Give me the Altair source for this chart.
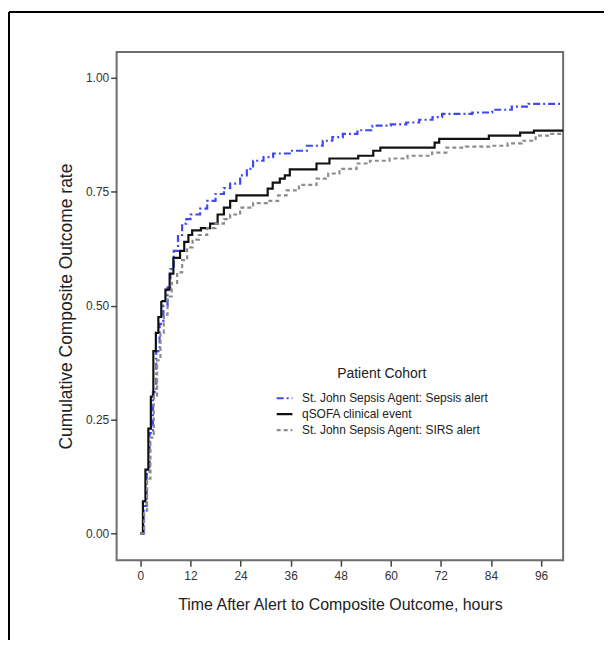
import altair as alt
import pandas as pd

series_names = [
    "St. John Sepsis Agent: Sepsis alert",
    "qSOFA clinical event",
    "St. John Sepsis Agent: SIRS alert",
]
series_colors = ["#4048f2", "#111111", "#8c8c8c"]
series_dash = [[7, 3, 2, 3], [1, 0], [4, 3]]

# Sepsis alert (blue, dash-dot)
sepsis_hours = [0, 0.8, 1.5, 2.2, 3.0, 3.8, 4.6, 5.5, 6.5, 7.2, 8.0, 9.0, 10.0, 11.0, 12.0,
                14.3, 16.0, 18.0, 20.0, 21.5, 23.9, 25.5, 27.0, 29.5, 31.8, 35.8, 39.9, 43.7,
                46.0, 48.5, 52.0, 55.6, 60.0, 63.7, 66.8, 70.0, 72.3, 79.5, 84.3, 89.0, 93.0, 102]
sepsis_rate = [0, 0.06, 0.13, 0.22, 0.31, 0.40, 0.46, 0.50, 0.54, 0.58, 0.62, 0.655, 0.68, 0.69, 0.70,
               0.713, 0.73, 0.745, 0.758, 0.768, 0.786, 0.80, 0.818, 0.826, 0.834, 0.84, 0.851, 0.862,
               0.87, 0.877, 0.885, 0.895, 0.898, 0.902, 0.908, 0.914, 0.921, 0.924, 0.93, 0.937, 0.943, 0.945]

# qSOFA clinical event (black, solid)
qsofa_hours = [0, 0.6, 1.2, 1.9, 2.5, 3.1, 3.7, 4.3, 5.0, 6.0, 7.0, 7.9, 9.5, 10.5, 11.5, 12.4,
               14.5, 16.7, 18.5, 20.0, 21.5, 23.0, 30.5, 31.7, 33.4, 34.6, 35.8, 42.2, 45.3,
               52.2, 55.8, 57.5, 70.5, 71.6, 83.5, 91.0, 94.3, 102]
qsofa_rate = [0, 0.07, 0.14, 0.23, 0.30, 0.40, 0.44, 0.475, 0.51, 0.535, 0.57, 0.605, 0.62, 0.64, 0.655, 0.665,
              0.67, 0.68, 0.70, 0.715, 0.73, 0.742, 0.757, 0.77, 0.779, 0.786, 0.799, 0.812, 0.823,
              0.829, 0.84, 0.847, 0.858, 0.866, 0.873, 0.88, 0.884, 0.884]

# SIRS alert (gray, dashed)
sirs_hours = [0, 0.9, 1.6, 2.4, 3.2, 4.0, 4.8, 5.6, 6.5, 7.5, 8.8, 10.0, 11.2, 12.5, 14.0, 16.0,
              18.0, 20.0, 21.5, 23.9, 27.0, 30.3, 33.0, 35.0, 38.0, 42.2, 45.0, 47.7, 51.8, 55.0,
              59.7, 64.0, 69.9, 73.3, 78.0, 84.2, 88.0, 91.4, 94.7, 98.0, 102]
sirs_rate = [0, 0.05, 0.12, 0.21, 0.30, 0.38, 0.44, 0.48, 0.52, 0.55, 0.573, 0.60, 0.628, 0.645, 0.655, 0.67,
             0.68, 0.69, 0.70, 0.715, 0.725, 0.73, 0.742, 0.753, 0.765, 0.779, 0.79, 0.80, 0.812, 0.818,
             0.823, 0.829, 0.836, 0.847, 0.849, 0.851, 0.856, 0.862, 0.873, 0.877, 0.88]

x_ticks = [0, 12, 24, 36, 48, 60, 72, 84, 96]
y_ticks = [0.0, 0.25, 0.5, 0.75, 1.0]

rows = []
for name, hs, vs in zip(series_names, [sepsis_hours, qsofa_hours, sirs_hours],
                        [sepsis_rate, qsofa_rate, sirs_rate]):
    for h, v in zip(hs, vs):
        rows.append({"series": name, "hours": h, "rate": v})
df = pd.DataFrame(rows)

FONT = "Liberation Sans"

legend = alt.Legend(title="Patient Cohort", symbolType="stroke", symbolSize=250,
                    symbolStrokeWidth=2.2)

lines = alt.Chart(df).mark_line(interpolate="step-after", strokeWidth=2.2, clip=True).encode(
    x=alt.X("hours:Q",
            scale=alt.Scale(domain=[-5.7, 101.3], nice=False, zero=False),
            axis=alt.Axis(values=x_ticks, title="Time After Alert to Composite Outcome, hours",
                          grid=False, domain=False, tickSize=6, labelPadding=4, titlePadding=15,
                          titleFontSize=16)),
    y=alt.Y("rate:Q",
            scale=alt.Scale(domain=[-0.059, 1.057], nice=False, zero=False),
            axis=alt.Axis(values=y_ticks, format=".2f", title="Cumulative Composite Outcome rate",
                          grid=False, domain=False, tickSize=6, labelPadding=2, titlePadding=10,
                          titleFontSize=17.5)),
    color=alt.Color("series:N", scale=alt.Scale(domain=series_names, range=series_colors), legend=legend),
    strokeDash=alt.StrokeDash("series:N", scale=alt.Scale(domain=series_names, range=series_dash), legend=legend),
)

frame_data = pd.DataFrame({"d": [0]})
border_left = alt.Chart(frame_data).mark_rule(color="#000000", strokeWidth=2).encode(
    x=alt.value(-108), y=alt.value(-40), y2=alt.value(590))
border_top = alt.Chart(frame_data).mark_rule(color="#000000", strokeWidth=2).encode(
    x=alt.value(-108), x2=alt.value(489), y=alt.value(-40))

chart = alt.layer(lines, border_left, border_top).properties(
    width=448, height=510,
    padding={"left": 0, "top": 2, "right": 0, "bottom": 0},
).configure_view(
    stroke="#6e6e6e", strokeWidth=2
).configure_axis(
    labelFont=FONT, labelFontSize=12, labelColor="#333333",
    titleFont=FONT, titleFontWeight="normal", titleColor="#222222",
    tickColor="#444444", tickWidth=1.5,
).configure_legend(
    orient="none", legendX=159, legendY=316,
    titleFont=FONT, titleFontSize=14, titleFontWeight="normal", titleColor="#222222",
    titleAnchor="middle", titlePadding=8,
    labelFont=FONT, labelFontSize=12, labelColor="#222222", rowPadding=0, labelLimit=0,
    labelOffset=8,
)

chart.save("out.html", embed_options={"renderer": "svg", "actions": False})
